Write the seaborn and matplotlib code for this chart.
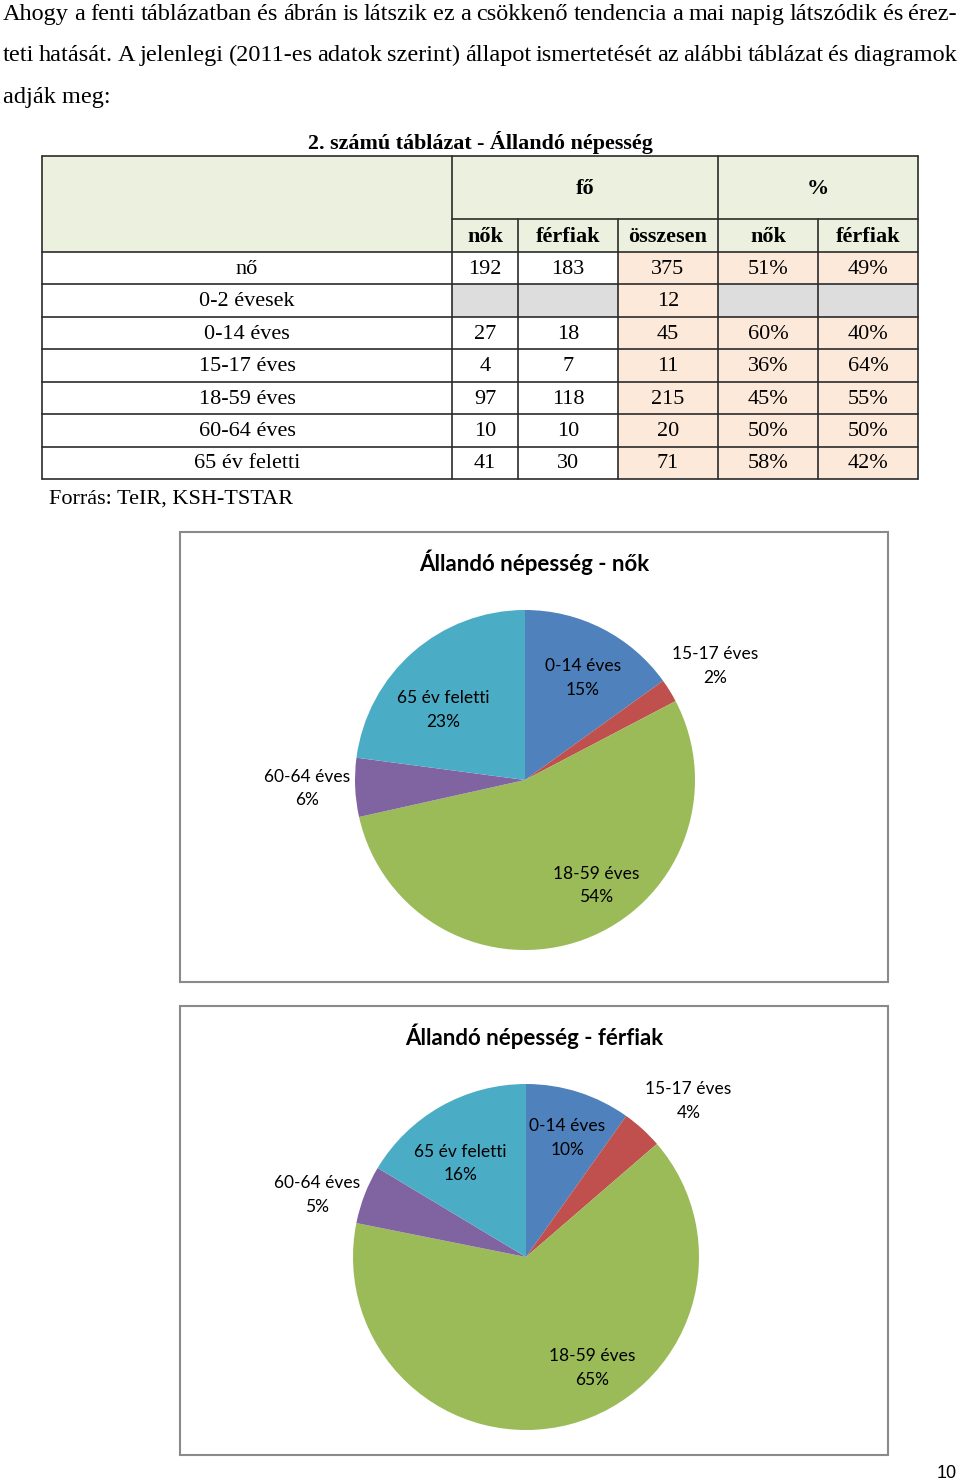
import matplotlib
matplotlib.use("Agg")
import matplotlib.pyplot as plt
from matplotlib.patches import Rectangle
import seaborn as sns

# ---- data (read from the page) ----
body_lines = [
    "Ahogy a fenti táblázatban és ábrán is látszik ez a csökkenő tendencia a mai napig látszódik és érez-",
    "teti hatását. A jelenlegi (2011-es adatok szerint) állapot ismertetését az alábbi táblázat és diagramok",
    "adják meg:",
]
table_title = "2. számú táblázat - Állandó népesség"
source_note = "Forrás: TeIR, KSH-TSTAR"

group_headers = ["fő", "%"]
sub_headers = ["nők", "férfiak", "összesen", "nők", "férfiak"]
row_labels = ["nő", "0-2 évesek", "0-14 éves", "15-17 éves", "18-59 éves", "60-64 éves", "65 év feletti"]
col_nok = ["192", "", "27", "4", "97", "10", "41"]
col_ferfiak = ["183", "", "18", "7", "118", "10", "30"]
col_osszesen = ["375", "12", "45", "11", "215", "20", "71"]
pct_nok = ["51%", "", "60%", "36%", "45%", "50%", "58%"]
pct_ferfiak = ["49%", "", "40%", "64%", "55%", "50%", "42%"]

age_groups = ["0-14 éves", "15-17 éves", "18-59 éves", "60-64 éves", "65 év feletti"]
nok_counts = [27, 4, 97, 10, 41]
ferfiak_counts = [18, 7, 118, 10, 30]
nok_pct_labels = [15, 2, 54, 6, 23]
ferfiak_pct_labels = [10, 4, 65, 5, 16]

title_nok = "Állandó népesség - nők"
title_ferfiak = "Állandó népesség - férfiak"
page_number = "10"

# ---- style ----
sns.set_theme(style="white")
plt.rcParams["font.family"] = ["Liberation Serif", "DejaVu Serif"]
plt.rcParams["text.color"] = "black"
pie_colors = sns.color_palette(["#4F81BD", "#C0504D", "#9BBB59", "#8064A2", "#4BACC6"])
chart_font = ["Lato", "DejaVu Sans"]

W, H = 960, 1482
fig = plt.figure(figsize=(W / 100, H / 100), dpi=100)
bg = fig.add_axes([0, 0, 1, 1])
bg.set_xlim(0, W)
bg.set_ylim(H, 0)
bg.axis("off")
renderer = fig.canvas.get_renderer()


def justify(y, text, x0, x1, **kw):
    words = text.split()
    arts = [bg.text(0, y, w, **kw) for w in words]
    widths = [a.get_window_extent(renderer).width for a in arts]
    gap = (x1 - x0 - sum(widths)) / (len(words) - 1)
    x = x0
    for a, w in zip(arts, widths):
        a.set_x(x)
        x += w + gap


# body text
body_kw = dict(fontsize=17.5, va="baseline", ha="left", color="black")
justify(20, body_lines[0], 3, 957, **body_kw)
justify(61, body_lines[1], 3, 957, **body_kw)
bg.text(3, 103, body_lines[2], **body_kw)

# table
tfs = 16
bg.text(480, 143, table_title, fontsize=15.8, fontweight="bold", ha="center", va="center")
col_x = [42, 452, 518, 618, 718, 818, 918]
y_top, y_mid, y_head = 156, 219, 252
row_h = 32.45
green, peach, grey = "#EBF1DE", "#FDE9D9", "#DDDDDD"
line_c, lw = "#2b2b2b", 1.2

bg.add_patch(Rectangle((col_x[0], y_top), col_x[-1] - col_x[0], y_head - y_top, fc=green, ec="none"))
columns = [col_nok, col_ferfiak, col_osszesen, pct_nok, pct_ferfiak]
for i, lab in enumerate(row_labels):
    y0 = y_head + i * row_h
    yc = y0 + row_h / 2 + 1
    bg.text((col_x[0] + col_x[1]) / 2, yc, lab, fontsize=tfs, ha="center", va="center")
    for j, col in enumerate(columns):
        if j >= 2:
            fc = peach
        else:
            fc = "white"
        if col[i] == "" and j != 2:
            fc = grey
        bg.add_patch(Rectangle((col_x[j + 1], y0), col_x[j + 2] - col_x[j + 1], row_h, fc=fc, ec="none"))
        bg.text((col_x[j + 1] + col_x[j + 2]) / 2, yc, col[i], fontsize=tfs, ha="center", va="center")

y_bot = y_head + len(row_labels) * row_h
# grid lines
for yy in [y_top, y_head] + [y_head + k * row_h for k in range(1, len(row_labels) + 1)]:
    bg.plot([col_x[0], col_x[-1]], [yy, yy], color=line_c, lw=lw)
bg.plot([col_x[1], col_x[-1]], [y_mid, y_mid], color=line_c, lw=lw)
for k, xx in enumerate(col_x):
    top = y_mid if k in (2, 3, 5) else y_top
    bg.plot([xx, xx], [top, y_bot], color=line_c, lw=lw)

bg.text((col_x[1] + col_x[4]) / 2, (y_top + y_mid) / 2 + 2, group_headers[0], fontsize=tfs,
        fontweight="bold", ha="center", va="center")
bg.text((col_x[4] + col_x[6]) / 2, (y_top + y_mid) / 2 + 2, group_headers[1], fontsize=tfs,
        fontweight="bold", ha="center", va="center")
for j, h in enumerate(sub_headers):
    bg.text((col_x[j + 1] + col_x[j + 2]) / 2, (y_mid + y_head) / 2 + 2, h, fontsize=tfs,
            fontweight="bold", ha="center", va="center")
bg.text(49, 499, source_note, fontsize=tfs, ha="left", va="center")

# chart frames + titles
bg.add_patch(Rectangle((180, 532), 708, 450, fill=False, ec="#8a8a8a", lw=1.5))
bg.add_patch(Rectangle((180, 1006), 708, 449, fill=False, ec="#8a8a8a", lw=1.5))
bg.text(534, 562, title_nok, fontsize=16, fontweight="bold", family=chart_font, ha="center", va="center")
bg.text(534, 1036, title_ferfiak, fontsize=16, fontweight="bold", family=chart_font, ha="center", va="center")

bg.text(947, 1473, page_number, fontsize=13, family=["Liberation Sans"], ha="center", va="center")


def draw_pie(rect, counts, pcts, label_pos):
    ax = fig.add_axes(rect)
    ax.pie(counts, colors=pie_colors, startangle=90, counterclock=False,
           wedgeprops=dict(linewidth=0))
    ax.set_xlim(-1, 1)
    ax.set_ylim(-1, 1)
    for name, p, (lx, ly) in zip(age_groups, pcts, label_pos):
        ax.text(lx, ly, f"{name}\n{p}%", fontsize=12.5, family=chart_font, ha="center",
                va="center", linespacing=1.6, color="black")


draw_pie([355 / W, 1 - 950 / H, 340 / W, 340 / H], nok_counts, nok_pct_labels,
         [(0.34, 0.60), (1.12, 0.67), (0.42, -0.62), (-1.28, -0.05), (-0.48, 0.41)])
draw_pie([353 / W, 1 - 1430 / H, 346 / W, 346 / H], ferfiak_counts, ferfiak_pct_labels,
         [(0.24, 0.69), (0.94, 0.90), (0.38, -0.64), (-1.21, 0.36), (-0.38, 0.54)])

fig.savefig("out.png", dpi=100)
